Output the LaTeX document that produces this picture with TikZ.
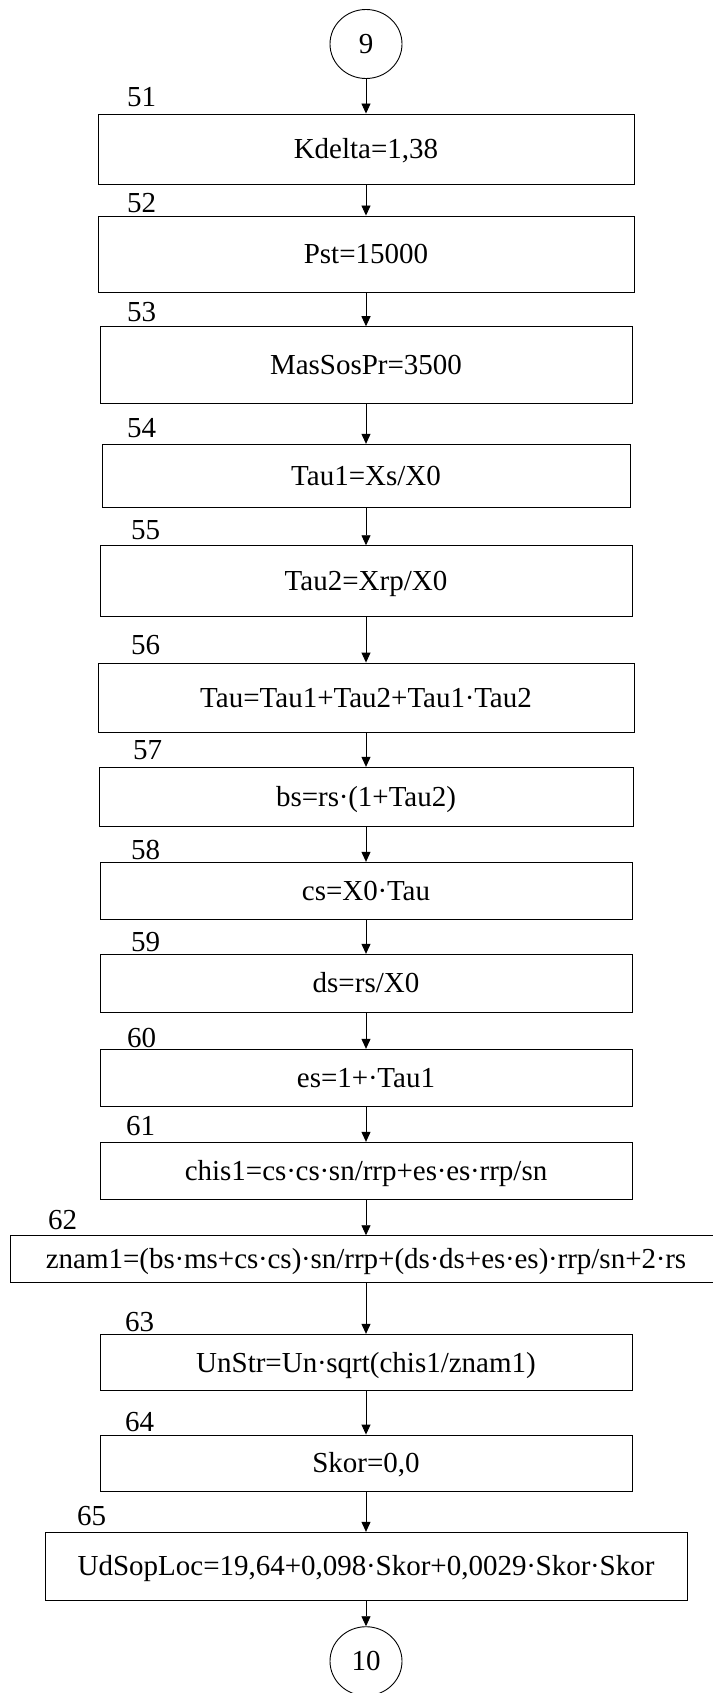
\documentclass[tikz,border=0pt]{standalone}
\usepackage{fontspec}
\setmainfont{Liberation Serif}
\usetikzlibrary{arrows.meta,shapes.geometric}

% multiplication dot, set a little tighter
\newcommand\cdt{\kern-0.25pt·\kern-0.25pt}

% one process block: #1 number, #2 left, #3 right, #4 top, #5 bottom,
% #6 x of the number, #7 y of the number, #8 formula
\newcommand\opbox[8]{%
  \node[procbox, minimum width={#3-#2}, minimum height={#5-#4}]
    (b#1) at ({(#2+#3)/2},{(#4+#5)/2}) {};
  \node[proctext] (t#1) at (366,{(#4+#5)/2}) {#8};
  \node[numlabel] (n#1) at (#6,#7) {#1};
}

\begin{document}
\begin{tikzpicture}[x=1pt,y=-1pt,
  every node/.style={font=\fontsize{29}{35}\selectfont},
  procbox/.style={draw,line width=0.9pt,inner sep=0pt},
  proctext/.style={inner sep=0pt,text height=19pt,text depth=0pt},
  numlabel/.style={anchor=west,inner sep=0pt,text height=19pt,text depth=0pt},
  connector/.style={draw,ellipse,line width=0.9pt,inner sep=0pt,
    minimum width=72pt,minimum height=69pt},
  arr/.style={line width=0.9pt,-{Triangle[length=10pt,width=9pt]}}
]
\useasboundingbox (0,0) rectangle (712,1693);

\node[connector] (c9) at (366,44) {9};

\opbox{51}{98.6}{634}{114}{184}{127}{97}{Kdelta=1,38}
\opbox{52}{98.6}{634}{216}{292.3}{127}{203.5}{Pst=15000}
\opbox{53}{100.5}{632}{326.7}{403.3}{127}{311.7}{MasSosPr=3500}
\opbox{54}{102.7}{630}{444.3}{507.3}{127}{428}{Tau1=Xs/X0}
\opbox{55}{100.5}{632}{545.7}{616.3}{131}{530}{Tau2=Xrp/X0}
\opbox{56}{98.6}{634.5}{663}{732.3}{131}{645}{Tau=Tau1+Tau2+Tau1\cdt Tau2}
\opbox{57}{99.5}{633}{767.3}{826}{133}{750}{bs=rs\cdt(1+Tau2)}
\opbox{58}{100}{632.7}{862.3}{919.7}{131}{849.5}{cs=X0\cdt Tau}
\opbox{59}{100}{632.7}{954.3}{1012.3}{131}{942}{ds=rs/X0}
\opbox{60}{100}{632}{1049.3}{1106}{127}{1037.5}{es=1+\cdt Tau1}
\opbox{61}{100}{632}{1142.3}{1199.3}{126}{1126}{chis1=cs\cdt cs\cdt sn/rrp+es\cdt es\cdt rrp/sn}
\opbox{62}{10}{714}{1235.7}{1282.3}{48}{1220}{znam1=(bs\cdt ms+cs\cdt cs)\cdt sn/rrp+(ds\cdt ds+es\cdt es)\cdt rrp/sn+2\cdt rs}
\opbox{63}{100}{632}{1334.3}{1390.7}{125}{1321.5}{UnStr=Un\cdt sqrt(chis1/znam1)}
\opbox{64}{100}{632}{1435}{1491}{125}{1422}{Skor=0,0}
\opbox{65}{45.5}{687}{1532.3}{1600}{77}{1516}{UdSopLoc=19,64+0,098\cdt Skor+0,0029\cdt Skor\cdt Skor}

\node[connector] (c10) at (366,1661.2) {10};

% flow lines
\draw[arr] (c9) -- (t51 |- b51.north);
\foreach \a/\b in {51/52,52/53,53/54,54/55,55/56,56/57,57/58,58/59,
                   59/60,60/61,61/62,62/63,63/64,64/65}
  \draw[arr] (t\a |- b\a.south) -- (t\b |- b\b.north);
\draw[arr] (t65 |- b65.south) -- (c10);
\end{tikzpicture}
\end{document}
